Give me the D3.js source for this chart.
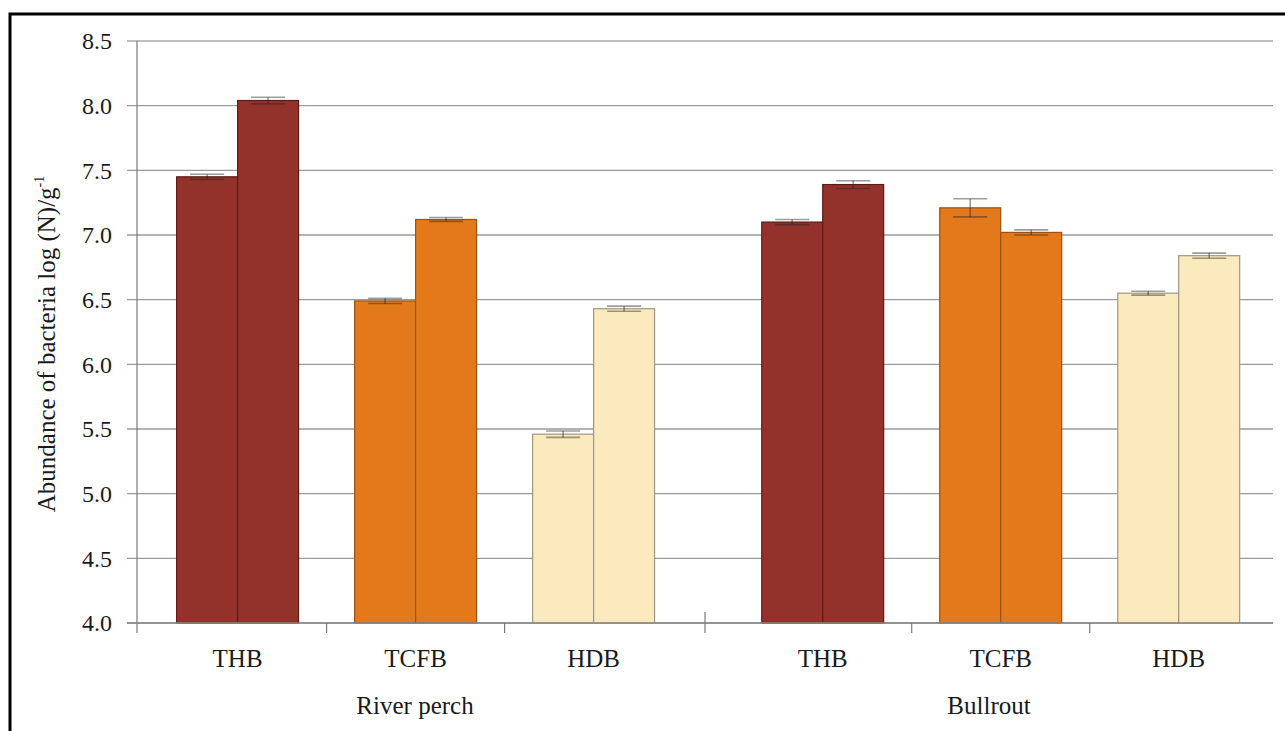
<!DOCTYPE html>
<html>
<head>
<meta charset="utf-8">
<script src="https://cdn.jsdelivr.net/npm/d3@7"></script>
<style>
  body { margin: 0; background: #fff; }
  svg { display: block; }
  text { font-family: "Liberation Serif", "Times New Roman", serif; fill: #1a1a1a; }
</style>
</head>
<body>
<svg width="1285" height="731"></svg>
<script>
// Data
const species = ['River perch', 'Bullrout'];
const groups = ['THB', 'TCFB', 'HDB'];
const series = ['s1', 's2'];
// values per species, per group: [first bar, second bar]
const perchValues = [[7.45, 8.04], [6.49, 7.12], [5.46, 6.43]];
const bullroutValues = [[7.10, 7.39], [7.21, 7.02], [6.55, 6.84]];
const perchErrors = [[0.02, 0.025], [0.02, 0.015], [0.025, 0.02]];
const bullroutErrors = [[0.02, 0.03], [0.07, 0.02], [0.015, 0.02]];
const yDomain = [4, 8.5];

const colors = {THB: '#92322a', TCFB: '#e3791b', HDB: '#fbeabd'};
const strokes = {THB: '#5c1c16', TCFB: '#9b5212', HDB: '#a09680'};

const svg = d3.select('svg');
const margin = {top: 41, left: 137, right: 12, bottom: 108};
const width = +svg.attr('width');
const height = +svg.attr('height');

// outer frame (runs off the right and bottom edges)
svg.append('rect')
  .attr('x', 10).attr('y', 14)
  .attr('width', 1400).attr('height', 900)
  .attr('fill', 'none')
  .attr('stroke', '#000')
  .attr('stroke-width', 3);

const y = d3.scaleLinear().domain(yDomain).range([height - margin.bottom, margin.top]);
const x0 = d3.scaleBand().domain(species).range([margin.left, width - margin.right]).padding(0);

// each species gets its own inner scale, slightly different alignment as in the original
const align = {'River perch': 0.44, 'Bullrout': 0.63};
const labelShift = {'River perch': -6, 'Bullrout': 0};
const inner = {};
species.forEach(s => {
  inner[s] = d3.scaleBand().domain(groups)
    .range([x0(s), x0(s) + x0.bandwidth()])
    .paddingInner(0.315).paddingOuter(0.253).align(align[s]);
});
const xs = d3.scaleBand().domain(series).range([0, inner[species[0]].bandwidth()]).padding(0);

const rows = [];
species.forEach((s, si) => {
  const vals = si === 0 ? perchValues : bullroutValues;
  const errs = si === 0 ? perchErrors : bullroutErrors;
  groups.forEach((g, gi) => {
    series.forEach((k, ki) => {
      rows.push({species: s, group: g, series: k, value: vals[gi][ki], err: errs[gi][ki]});
    });
  });
});

// gridlines
const g = svg.append('g');
g.append('g')
  .selectAll('line')
  .data(y.ticks(10))
  .enter().append('line')
  .attr('x1', margin.left - 10).attr('x2', width - margin.right)
  .attr('y1', d => y(d)).attr('y2', d => y(d))
  .attr('stroke', d => d === yDomain[1] ? '#bdbdbd' : '#9a9a9a')
  .attr('stroke-width', d => d === yDomain[1] ? 2 : 1.3);

// y tick labels
g.append('g')
  .selectAll('text')
  .data(y.ticks(10))
  .enter().append('text')
  .attr('x', margin.left - 25)
  .attr('y', d => y(d))
  .attr('dy', '0.35em')
  .attr('text-anchor', 'end')
  .attr('font-size', 24)
  .text(d3.format('.1f'));

// bars
const bx = d => inner[d.species](d.group) + xs(d.series);
g.append('g')
  .selectAll('rect')
  .data(rows)
  .enter().append('rect')
  .attr('x', bx)
  .attr('width', xs.bandwidth())
  .attr('y', d => y(d.value))
  .attr('height', d => y(yDomain[0]) - y(d.value))
  .attr('fill', d => colors[d.group])
  .attr('stroke', d => strokes[d.group])
  .attr('stroke-width', 1.2);

// error bars
const capW = 34;
const eb = g.append('g')
  .attr('stroke', '#262626')
  .attr('stroke-opacity', 0.45)
  .attr('stroke-width', 1.6)
  .selectAll('g')
  .data(rows)
  .enter().append('g')
  .attr('transform', d => `translate(${bx(d) + xs.bandwidth() / 2},0)`);
eb.append('line')
  .attr('y1', d => y(d.value - d.err)).attr('y2', d => y(d.value + d.err));
eb.append('line')
  .attr('x1', -capW / 2).attr('x2', capW / 2)
  .attr('y1', d => y(d.value + d.err)).attr('y2', d => y(d.value + d.err));
eb.append('line')
  .attr('x1', -capW / 2).attr('x2', capW / 2)
  .attr('y1', d => y(d.value - d.err)).attr('y2', d => y(d.value - d.err));

// axes lines
const y0 = y(yDomain[0]);
g.append('line')
  .attr('x1', margin.left).attr('x2', margin.left)
  .attr('y1', margin.top).attr('y2', y0 + 10)
  .attr('stroke', '#7a7a7a').attr('stroke-width', 1.2);
g.append('line')
  .attr('x1', margin.left - 10).attr('x2', width - margin.right)
  .attr('y1', y0).attr('y2', y0)
  .attr('stroke', '#8a8a8a').attr('stroke-width', 1.4);

// category ticks: between adjacent groups, plus a long one between species
const ticks = [];
species.forEach(s => {
  const sc = inner[s];
  for (let i = 0; i < groups.length - 1; i++) {
    const right = sc(groups[i]) + sc.bandwidth();
    const left = sc(groups[i + 1]);
    ticks.push({x: (right + left) / 2, long: false});
  }
});
ticks.push({x: x0(species[1]), long: true});
g.append('g')
  .selectAll('line')
  .data(ticks)
  .enter().append('line')
  .attr('x1', d => d.x).attr('x2', d => d.x)
  .attr('y1', d => d.long ? y0 - 11 : y0)
  .attr('y2', y0 + 10)
  .attr('stroke', '#7a7a7a').attr('stroke-width', 1.2);

// category labels
const cats = [];
species.forEach(s => groups.forEach(gr => cats.push({species: s, group: gr})));
g.append('g')
  .selectAll('text')
  .data(cats)
  .enter().append('text')
  .attr('x', d => inner[d.species](d.group) + inner[d.species].bandwidth() / 2)
  .attr('y', y0 + 44)
  .attr('text-anchor', 'middle')
  .attr('font-size', 25)
  .text(d => d.group);

// species labels
g.append('g')
  .selectAll('text')
  .data(species)
  .enter().append('text')
  .attr('x', d => x0(d) + x0.bandwidth() / 2 + labelShift[d])
  .attr('y', y0 + 91)
  .attr('text-anchor', 'middle')
  .attr('font-size', 25)
  .text(d => d);

// y axis title
const title = svg.append('text')
  .attr('transform', `translate(55,${(margin.top + y0) / 2 + 12}) rotate(-90)`)
  .attr('text-anchor', 'middle')
  .attr('font-size', 25);
title.append('tspan').text('Abundance of bacteria log (N)/g');
title.append('tspan').attr('font-size', 14).attr('dy', -11).text('-1');
</script>
</body>
</html>
